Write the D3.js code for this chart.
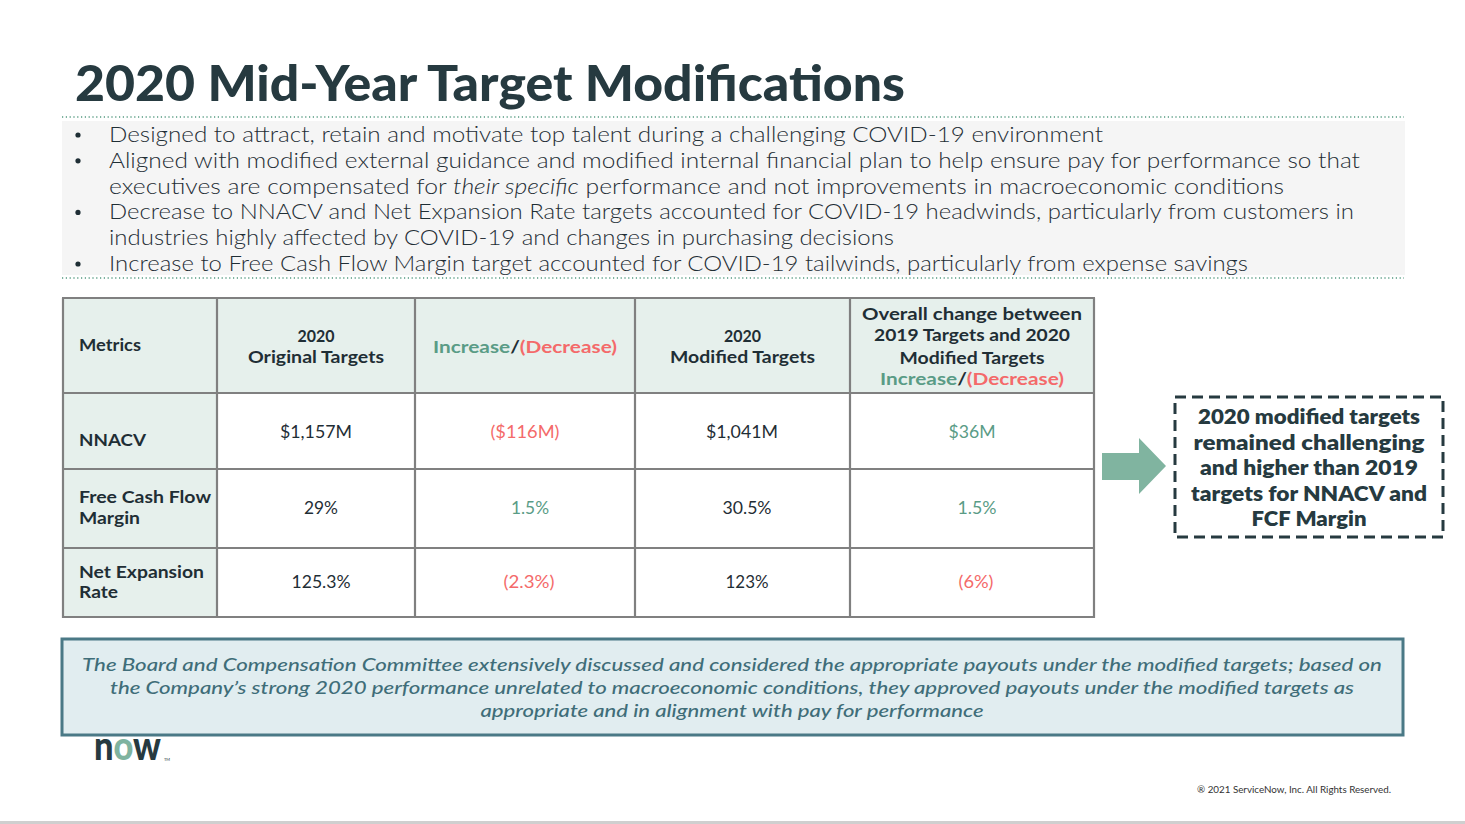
<!DOCTYPE html>
<html>
<head>
<meta charset="utf-8">
<script src="https://cdn.jsdelivr.net/npm/d3@7"></script>
<style>
  html, body { margin: 0; padding: 0; background: #ffffff; }
  svg { display: block; }
  text { font-family: Lato, "Open Sans", "DejaVu Sans", sans-serif; }
</style>
</head>
<body>
<svg id="slide" width="1465" height="824"></svg>
<script>
// ---------------- DATA ----------------
const titleText = "2020 Mid-Year Target Modifications";

const bulletLines = [
  { bullet: true,  parts: [["Designed to attract, retain and motivate top talent during a challenging COVID-19 environment", false]] },
  { bullet: true,  parts: [["Aligned with modified external guidance and modified internal financial plan to help ensure pay for performance so that", false]] },
  { bullet: false, parts: [["executives are compensated for ", false], ["their specific", true], [" performance and not improvements in macroeconomic conditions", false]] },
  { bullet: true,  parts: [["Decrease to NNACV and Net Expansion Rate targets accounted for COVID-19 headwinds, particularly from customers in", false]] },
  { bullet: false, parts: [["industries highly affected by COVID-19 and changes in purchasing decisions", false]] },
  { bullet: true,  parts: [["Increase to Free Cash Flow Margin target accounted for COVID-19 tailwinds, particularly from expense savings", false]] }
];
const bulletWidths = [994, 1251, 1175, 1245, 785, 1139];

const columns = ["metric", "original", "change", "modified", "overall"];
const headerLines = [
  [["Metrics"]],
  [["2020"], ["Original Targets"]],
  [["Increase/(Decrease)", "split"]],
  [["2020"], ["Modified Targets"]],
  [["Overall change between"], ["2019 Targets and 2020"], ["Modified Targets"], ["Increase/(Decrease)", "split"]]
];

const metrics = ["NNACV", "Free Cash Flow Margin", "Net Expansion Rate"];
const metricLines = [["NNACV"], ["Free Cash Flow", "Margin"], ["Net Expansion", "Rate"]];
const original = ["$1,157M", "29%", "125.3%"];
const change   = ["($116M)", "1.5%", "(2.3%)"];
const modified = ["$1,041M", "30.5%", "123%"];
const overall  = ["$36M", "1.5%", "(6%)"];

const calloutLines = ["2020 modified targets", "remained challenging", "and higher than 2019", "targets for NNACV and", "FCF Margin"];
const calloutWidths = [222, 231, 218, 236, 115];

const noteLines = [
  "The Board and Compensation Committee extensively discussed and considered the appropriate payouts under the modified targets; based on",
  "the Company\u2019s strong 2020 performance unrelated to macroeconomic conditions, they approved payouts under the modified targets as",
  "appropriate and in alignment with pay for performance"
];
const noteWidths = [1300, 1244, 503];

const copyright = "\u00AE 2021 ServiceNow, Inc. All Rights Reserved.";

// ---------------- STYLE / LAYOUT ----------------
const C = {
  dark: "#263a40",
  text: "#1f2e35",
  green: "#5a9c86",
  red: "#f46a6a",
  mint: "#e6f0ec",
  grid: "#808080",
  dots: "#7fb3a0",
  arrow: "#80b4a0",
  noteFill: "#e1edf0",
  noteStroke: "#4a7986",
  noteText: "#3f6d79"
};

const svg = d3.select("#slide");

function fit(sel, w) {
  if (w) sel.attr("textLength", w).attr("lengthAdjust", "spacingAndGlyphs");
  return sel;
}

// Title
fit(svg.append("text")
  .attr("x", 75).attr("y", 101)
  .attr("font-size", 50).attr("font-weight", 900)
  .attr("fill", C.dark)
  .text(titleText), 830);

// Bullet box
svg.append("rect").attr("x", 62).attr("y", 121).attr("width", 1343).attr("height", 154).attr("fill", "#f5f5f5");
[117, 278].forEach(y => {
  svg.append("line").attr("x1", 62).attr("x2", 1404).attr("y1", y).attr("y2", y)
    .attr("stroke", C.dots).attr("stroke-width", 2).attr("stroke-dasharray", "1.2,2.6");
});

const bulletY = d3.scalePoint().domain(d3.range(bulletLines.length)).range([142, 271]);
bulletLines.forEach((ln, i) => {
  const y = bulletY(i);
  if (ln.bullet) {
    svg.append("circle").attr("cx", 78).attr("cy", y - 7).attr("r", 2.6).attr("fill", C.text);
  }
  const t = svg.append("text").attr("x", 109).attr("y", y)
    .attr("font-size", 21).attr("font-weight", 300).attr("fill", C.text);
  ln.parts.forEach(p => {
    t.append("tspan").attr("font-style", p[1] ? "italic" : "normal").text(p[0]);
  });
  fit(t, bulletWidths[i]);
});

// ---------------- TABLE ----------------
const colX = d3.scaleOrdinal().domain(columns).range([63, 217, 415, 635, 850]);
const colW = d3.scaleOrdinal().domain(columns).range([154, 198, 220, 215, 244]);
const rowY = d3.scaleOrdinal().domain(["header"].concat(metrics)).range([298, 393, 469, 548]);
const rowH = d3.scaleOrdinal().domain(["header"].concat(metrics)).range([95, 76, 79, 69]);

const tableLeft = colX("metric"), tableRight = colX("overall") + colW("overall");
const tableTop = rowY("header"), tableBottom = rowY(metrics[2]) + rowH(metrics[2]);

// backgrounds
svg.append("rect").attr("x", tableLeft).attr("y", tableTop)
  .attr("width", tableRight - tableLeft).attr("height", rowH("header")).attr("fill", C.mint);
svg.append("rect").attr("x", tableLeft).attr("y", tableTop)
  .attr("width", colW("metric")).attr("height", tableBottom - tableTop).attr("fill", C.mint);

// grid lines
const gridG = svg.append("g").attr("stroke", C.grid).attr("stroke-width", 2.2);
columns.forEach(c => {
  gridG.append("line").attr("x1", colX(c)).attr("x2", colX(c)).attr("y1", tableTop).attr("y2", tableBottom + 1);
});
gridG.append("line").attr("x1", tableRight).attr("x2", tableRight).attr("y1", tableTop).attr("y2", tableBottom + 1);
["header"].concat(metrics).forEach(r => {
  gridG.append("line").attr("x1", tableLeft - 1).attr("x2", tableRight + 1).attr("y1", rowY(r)).attr("y2", rowY(r));
});
gridG.append("line").attr("x1", tableLeft - 1).attr("x2", tableRight + 1).attr("y1", tableBottom).attr("y2", tableBottom);

// header text
const headerBaselines = {
  metric: [351],
  original: [342, 363],
  change: [353],
  modified: [342, 363],
  overall: [320, 341, 364, 385]
};
const headerWidths = {
  metric: [62],
  original: [37, 136],
  change: [184],
  modified: [37, 145],
  overall: [220, 196, 145, 184]
};
columns.forEach((c, ci) => {
  headerLines[ci].forEach((ln, li) => {
    const isMetric = c === "metric";
    const x = isMetric ? colX(c) + 16 : colX(c) + colW(c) / 2;
    const t = svg.append("text").attr("x", x).attr("y", headerBaselines[c][li])
      .attr("font-size", 17.5).attr("font-weight", 700)
      .attr("text-anchor", isMetric ? "start" : "middle")
      .attr("fill", C.text);
    if (ln[1] === "split") {
      t.append("tspan").attr("fill", C.green).text("Increase");
      t.append("tspan").attr("fill", C.text).text("/");
      t.append("tspan").attr("fill", C.red).text("(Decrease)");
    } else {
      t.text(ln[0]);
    }
    fit(t, headerWidths[c][li]);
  });
});

// body
const valueCols = { original, change, modified, overall };
const labelBaselines = [[446], [503, 524], [578, 598]];
const labelWidths = [[67], [132, 61], [125, 39]];
const valueBaselines = [438, 514, 588];
const valueWidths = {
  original: [72, 34, 59],
  change: [69, 38, 51],
  modified: [72, 49, 43],
  overall: [47, 39, 35]
};
const valueCenter = {
  original: [316, 321, 321],
  change: [525, 530, 529],
  modified: [742, 747, 747],
  overall: [972, 977, 976]
};
function signColor(s) { return s.trim().startsWith("(") ? C.red : C.green; }

metrics.forEach((m, mi) => {
  metricLines[mi].forEach((ln, li) => {
    fit(svg.append("text").attr("x", colX("metric") + 16).attr("y", labelBaselines[mi][li])
      .attr("font-size", 17.5).attr("font-weight", 700).attr("fill", C.text)
      .text(ln), labelWidths[mi][li]);
  });
  ["original", "change", "modified", "overall"].forEach(c => {
    const v = valueCols[c][mi];
    const isDelta = c === "change" || c === "overall";
    fit(svg.append("text")
      .attr("x", valueCenter[c][mi]).attr("y", valueBaselines[mi])
      .attr("text-anchor", "middle").attr("font-size", 18).attr("font-weight", 400)
      .attr("fill", isDelta ? signColor(v) : C.text)
      .text(v), valueWidths[c][mi]);
  });
});

// ---------------- ARROW ----------------
const arrowPath = d3.path();
arrowPath.moveTo(1102, 453);
arrowPath.lineTo(1139, 453);
arrowPath.lineTo(1139, 438);
arrowPath.lineTo(1166, 466);
arrowPath.lineTo(1139, 494);
arrowPath.lineTo(1139, 480);
arrowPath.lineTo(1102, 480);
arrowPath.closePath();
svg.append("path").attr("d", arrowPath.toString()).attr("fill", C.arrow);

// ---------------- CALLOUT ----------------
svg.append("rect").attr("x", 1175).attr("y", 397).attr("width", 268).attr("height", 140)
  .attr("fill", "none").attr("stroke", C.dark).attr("stroke-width", 3)
  .attr("stroke-dasharray", "11,6");
const calloutY = d3.scalePoint().domain(d3.range(calloutLines.length)).range([424, 526]);
calloutLines.forEach((ln, i) => {
  fit(svg.append("text").attr("x", 1309).attr("y", calloutY(i))
    .attr("text-anchor", "middle").attr("font-size", 20).attr("font-weight", 800)
    .attr("fill", C.dark).text(ln), calloutWidths[i]);
});

// ---------------- NOTE BOX ----------------
svg.append("rect").attr("x", 62).attr("y", 639).attr("width", 1341).attr("height", 96)
  .attr("fill", C.noteFill).attr("stroke", C.noteStroke).attr("stroke-width", 3);
const noteY = d3.scalePoint().domain(d3.range(noteLines.length)).range([671, 717]);
noteLines.forEach((ln, i) => {
  fit(svg.append("text").attr("x", 732).attr("y", noteY(i))
    .attr("text-anchor", "middle").attr("font-size", 18).attr("font-style", "italic")
    .attr("font-weight", 500).attr("fill", C.noteText).text(ln), noteWidths[i]);
});

// ---------------- LOGO ----------------
const logo = svg.append("text").attr("x", 94).attr("y", 760)
  .attr("font-size", 39).attr("font-weight", 900).attr("fill", C.dark);
logo.append("tspan").text("n");
logo.append("tspan").attr("fill", "#7fb39f").text("o");
logo.append("tspan").text("w");
fit(logo, 67);
svg.append("text").attr("x", 164).attr("y", 761).attr("font-size", 4).attr("fill", C.dark).text("TM");

// ---------------- FOOTER ----------------
fit(svg.append("text").attr("x", 1197).attr("y", 793)
  .attr("font-size", 9).attr("fill", "#333").text(copyright), 194);
svg.append("rect").attr("x", 0).attr("y", 821).attr("width", 1465).attr("height", 3).attr("fill", "#cfcfcf");
</script>
</body>
</html>
